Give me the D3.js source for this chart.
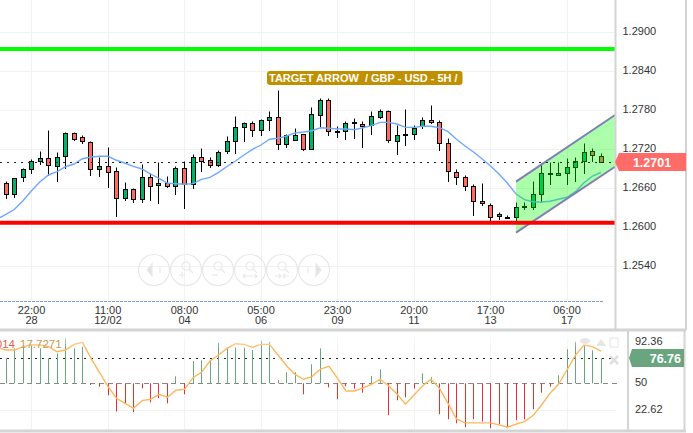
<!DOCTYPE html>
<meta charset="utf-8">
<style>
  body { margin: 0; background: #fff; }
  text { font-family: "Liberation Sans", Arial, sans-serif; }
</style>

<!-- Load d3.js -->
<script src="https://d3js.org/d3.v7.min.js"></script>

<svg width="693" height="433"></svg>

<script>
// candles, oldest first
var opens = [1.26677,1.26502,1.26769,1.26892,1.27015,1.27062,1.26938,1.27092,1.27446,1.27385,1.27308,1.26892,1.26938,1.26862,1.26446,1.26585,1.26431,1.26769,1.26646,1.26677,1.26631,1.26908,1.26662,1.27077,1.27031,1.26954,1.27169,1.27323,1.27538,1.27600,1.27492,1.27646,1.27692,1.27277,1.27338,1.27431,1.27200,1.27723,1.27954,1.27462,1.27477,1.27600,1.27585,1.27569,1.27692,1.27785,1.27323,1.27415,1.27431,1.27554,1.27646,1.27615,1.27292,1.26846,1.26769,1.26631,1.26400,1.26338,1.26169,1.26158,1.26154,1.26308,1.26308,1.26508,1.26815,1.26800,1.26831,1.26923,1.27015,1.27169,1.27092];
var closes = [1.26502,1.26754,1.26892,1.27015,1.27062,1.26954,1.27077,1.27446,1.27354,1.27323,1.26892,1.26938,1.26846,1.26446,1.26585,1.26431,1.26769,1.26631,1.26677,1.26631,1.26908,1.26662,1.27077,1.27015,1.26954,1.27154,1.27323,1.27538,1.27600,1.27492,1.27646,1.27692,1.27277,1.27415,1.27415,1.27200,1.27739,1.27954,1.27477,1.27477,1.27600,1.27615,1.27554,1.27708,1.27785,1.27338,1.27415,1.27431,1.27523,1.27646,1.27615,1.27292,1.26862,1.26769,1.26631,1.26400,1.26369,1.26154,1.26200,1.26138,1.26308,1.26323,1.26508,1.26831,1.26831,1.26831,1.26923,1.27015,1.27154,1.27108,1.27000];
var highs = [1.26697,1.26754,1.26908,1.27046,1.27169,1.27492,1.27154,1.27462,1.27454,1.27415,1.27323,1.27077,1.27231,1.26923,1.26692,1.26600,1.26969,1.26831,1.27000,1.26785,1.26938,1.27015,1.27123,1.27215,1.27077,1.27185,1.27400,1.27708,1.27615,1.27631,1.27662,1.27785,1.28108,1.27431,1.27523,1.27431,1.27846,1.27985,1.27985,1.27554,1.27631,1.27677,1.27631,1.27785,1.27815,1.27800,1.27569,1.27815,1.27569,1.27692,1.27877,1.27640,1.27363,1.26892,1.26800,1.26662,1.26677,1.26369,1.26231,1.26185,1.26385,1.26385,1.26708,1.26985,1.27000,1.27000,1.27062,1.27077,1.27292,1.27215,1.27138];
var lows = [1.26440,1.26455,1.26702,1.26825,1.26963,1.26800,1.26702,1.26902,1.27332,1.27292,1.26794,1.26778,1.26609,1.26163,1.26409,1.26378,1.26378,1.26409,1.26369,1.26609,1.26502,1.26292,1.26594,1.26855,1.26923,1.26938,1.27138,1.27138,1.27323,1.27400,1.27415,1.27492,1.27200,1.27231,1.27338,1.27185,1.27200,1.27554,1.27415,1.27385,1.27354,1.27369,1.27231,1.27431,1.27677,1.27308,1.27123,1.27262,1.27354,1.27523,1.27600,1.27178,1.26702,1.26662,1.26563,1.26185,1.26338,1.26102,1.26123,1.26132,1.26102,1.26277,1.26277,1.26385,1.26662,1.26800,1.26662,1.26708,1.26831,1.27015,1.27000];

// blue moving average, avgStart is where it enters at the left edge
var avgStart = 1.2615;
var avgLine = [1.2620,1.26277,1.26409,1.26563,1.26702,1.26805,1.26855,1.26932,1.26974,1.27055,1.27082,1.27092,1.27092,1.27031,1.26985,1.26938,1.26897,1.26820,1.26754,1.26677,1.26671,1.26662,1.26671,1.26738,1.26769,1.26846,1.26935,1.27020,1.27112,1.27200,1.27266,1.27354,1.27369,1.27405,1.27451,1.27466,1.27486,1.27532,1.27523,1.27512,1.27512,1.27502,1.27532,1.27563,1.27615,1.27615,1.27589,1.27538,1.27538,1.27554,1.27554,1.27532,1.27471,1.27354,1.27251,1.27158,1.27055,1.26943,1.26820,1.26677,1.26512,1.26425,1.26394,1.26389,1.26400,1.26431,1.26462,1.26548,1.26686,1.26789,1.26846];

// lower panel, bars and orange signal line
var oscBars = [75.4,85.5,88.9,89.5,85.5,75.4,80.4,96.3,85.5,87.2,48.3,46.6,37.8,21.3,29.7,20.6,44.9,30.7,34.8,29.7,57.1,38.8,72.6,73.3,73.7,91.2,86.2,86.2,86.2,83.8,93.3,92.3,53.4,61.2,61.2,38.8,69.3,85.5,45.9,33.8,47,44.6,40.5,57.4,64.2,17.6,32.8,35.8,44.6,60.1,56.4,18.6,13.5,9.4,5.4,13.5,11.1,4.4,8.4,4.4,12.5,13.5,23.6,40.5,46.6,58.1,84.5,92.3,88.9,83.5,75.4];
var oscStart = 85.5;
var oscSignal = [83.8,83.8,87.2,88.9,88.9,87.2,82.1,83.8,89.5,91.6,75.4,61.2,46.6,34.8,29.7,24.6,32.4,33.8,38.8,35.8,42.9,43.9,55.7,61.2,72.6,78.7,85.5,90.2,89.5,86.5,89.5,89.5,78.7,67.9,59.1,54.1,56.8,64.5,67.2,55.1,42.2,42.2,45.3,49,54.1,47.6,39.2,28.7,38.2,47.3,54.1,44.9,29.7,13.8,9.8,9.8,9.8,9.8,7.7,5.4,8.4,11.1,17.2,28,39.9,49,63.5,78.7,88.9,87.2,82.8];

var priceTicks = [1.2900,1.2840,1.2780,1.2720,1.2660,1.2600,1.2540];
var oscTicks = [92.36,50,22.62];
var timeTicks = [
  { i: 3, top: "22:00", bottom: "28" },
  { i: 12, top: "11:00", bottom: "12/02" },
  { i: 21, top: "08:00", bottom: "04" },
  { i: 30, top: "05:00", bottom: "06" },
  { i: 39, top: "23:00", bottom: "09" },
  { i: 48, top: "20:00", bottom: "11" },
  { i: 57, top: "17:00", bottom: "13" },
  { i: 66, top: "06:00", bottom: "17" }
];

// drawn levels and the channel
var resistance = 1.28743, support = 1.2607, lastLevel = 1.2699, oscLevel = 75.4;
var channelTop = [{ i: 60, p: 1.26702 }, { i: 71.65, p: 1.27728 }];
var channelBottom = [{ i: 60, p: 1.25917 }, { i: 71.65, p: 1.26932 }];

var svg = d3.select("svg");
var plotRight = 615;

var x = d3.scaleLinear().domain([0, 70]).range([6, 601]);
var y = d3.scaleLinear().domain([1.25, 1.29]).range([292.3, 32.3]);
var yOsc = d3.scaleLinear().domain([50, 92.36]).range([383.3, 341.6]);

function px(v) { return Math.floor(v) + 0.5; }

function hline(parent, yy, x2, color, dash, w) {
  return parent.append("line")
    .attr("x1", 0).attr("x2", x2)
    .attr("y1", yy).attr("y2", yy)
    .attr("stroke", color)
    .attr("stroke-width", w || 1)
    .attr("stroke-dasharray", dash || null);
}

// series with an extra point that reaches the left edge
function fromEdge(first, values) {
  var pts = values.map(function (v, i) { return { i: i, v: v }; });
  pts.unshift({ i: -0.7, v: first });
  return pts;
}

// grid
var grid = svg.append("g");
grid.selectAll("line.v").data(timeTicks).enter().append("line")
  .attr("x1", function (d) { return px(x(d.i)); })
  .attr("x2", function (d) { return px(x(d.i)); })
  .attr("y1", 0).attr("y2", 300)
  .attr("stroke", "#f2f2f2");
grid.selectAll("line.o").data(timeTicks).enter().append("line")
  .attr("x1", function (d) { return px(x(d.i)); })
  .attr("x2", function (d) { return px(x(d.i)); })
  .attr("y1", 332).attr("y2", 429)
  .attr("stroke", "#f2f2f2");
priceTicks.forEach(function (t) { hline(grid, px(y(t)), plotRight, "#f2f2f2"); });
hline(grid, px(yOsc(22.62)), plotRight, "#f2f2f2");

// zoom buttons under the candles
var buttons = svg.append("g").attr("fill", "none").attr("stroke", "#e9e9e9").attr("stroke-width", 1.2);
[154, 186, 218, 250, 282, 314].forEach(function (cx, n) {
  var b = buttons.append("g").attr("transform", "translate(" + cx + ",270)");
  b.append("circle").attr("r", 15.5);
  if (n == 0) {
    b.append("path").attr("d", "M-5,-6V6L-10,0Z M3,-3V3").attr("fill", "#e2e2e2").attr("transform", "translate(3,0)");
  } else if (n == 5) {
    b.append("path").attr("d", "M5,-6V6L10,0Z M-3,-3V3").attr("fill", "#e2e2e2").attr("transform", "translate(-3,0)");
  } else {
    b.append("circle").attr("cx", 0).attr("cy", -4).attr("r", 4);
    b.append("path").attr("d", "M3,-1L7,3");
    var marks = ["M-7,5H-1M-4,2V8", "M-6,5H0", "M-7,6H7M-7,6l2,-2M-7,6l2,2M7,6l-2,-2M7,6l-2,2", "M-7,6H-1M7,6H1M-1,6l-2,-2M-1,6l-2,2M1,6l2,-2M1,6l2,2"];
    b.append("path").attr("d", marks[n - 1]);
  }
});

// candles
var candles = svg.append("g").selectAll("g").data(d3.range(opens.length)).enter().append("g");
candles.append("line")
  .attr("x1", function (i) { return px(x(i)); })
  .attr("x2", function (i) { return px(x(i)); })
  .attr("y1", function (i) { return px(y(highs[i])); })
  .attr("y2", function (i) { return px(y(lows[i])) + 0.5; })
  .attr("stroke", "#000");
candles.append("rect")
  .attr("x", function (i) { return px(x(i)) - 2; })
  .attr("width", 4)
  .attr("y", function (i) { return px(y(Math.max(opens[i], closes[i]))); })
  .attr("height", function (i) { return px(y(Math.min(opens[i], closes[i]))) - px(y(Math.max(opens[i], closes[i]))); })
  .attr("fill", function (i) { return closes[i] >= opens[i] ? "#00b36b" : "#ff6b60"; })
  .attr("stroke", "#000");

svg.append("path")
  .attr("d", d3.line().x(function (d) { return x(d.i); }).y(function (d) { return y(d.v); })(fromEdge(avgStart, avgLine)))
  .attr("fill", "none")
  .attr("stroke", "#70a8ff")
  .attr("stroke-width", 1.4);

// channel, see-through so the candles go olive under it
svg.append("path")
  .attr("d", d3.line().x(function (d) { return x(d.i); }).y(function (d) { return y(d.p); })(channelTop.concat(channelBottom.slice().reverse())) + "Z")
  .attr("fill", "rgba(0,255,0,0.33)");
[channelTop, channelBottom].forEach(function (c) {
  svg.append("path")
    .attr("d", d3.line().x(function (d) { return x(d.i); }).y(function (d) { return y(d.p); })(c))
    .attr("fill", "none")
    .attr("stroke", "#7f7fb5")
    .attr("stroke-width", 2);
});

hline(svg, y(resistance), plotRight, "#00ff00", null, 4);
hline(svg, y(support), plotRight, "#ff0000", null, 4);
hline(svg, px(y(lastLevel)), plotRight, "#222", "2,5");

// title label
svg.append("rect")
  .attr("x", 267).attr("y", 71).attr("width", 195.5).attr("height", 14).attr("rx", 3)
  .attr("fill", "#c09000");
svg.append("text")
  .attr("x", 269).attr("y", 82)
  .attr("font-size", 11).attr("font-weight", "bold").attr("fill", "#fff")
  .style("white-space", "pre")
  .text("TARGET ARROW  / GBP - USD - 5H /");

// lower panel
hline(svg, px(yOsc(50)), 617, "#888", "5,4");
hline(svg, px(yOsc(oscLevel)), plotRight, "#222", "2,5");
svg.append("g").selectAll("line").data(oscBars).enter().append("line")
  .attr("x1", function (d, i) { return px(x(i)); })
  .attr("x2", function (d, i) { return px(x(i)); })
  .attr("y1", yOsc(50))
  .attr("y2", function (d) { return yOsc(d); })
  .attr("stroke", function (d) { return d >= 50 ? "#6aa57f" : "#e83030"; });
svg.append("path")
  .attr("d", d3.line().x(function (d) { return x(d.i); }).y(function (d) { return yOsc(d.v); })(fromEdge(oscStart, oscSignal)))
  .attr("fill", "none")
  .attr("stroke", "#ffb75e")
  .attr("stroke-width", 1.4);

// top of the lower panel fades out
var grad = svg.append("defs").append("linearGradient")
  .attr("id", "fade").attr("x1", 0).attr("x2", 0).attr("y1", 0).attr("y2", 1);
grad.append("stop").attr("offset", "0%").attr("stop-color", "#fff").attr("stop-opacity", 0.9);
grad.append("stop").attr("offset", "100%").attr("stop-color", "#fff").attr("stop-opacity", 0);
svg.append("rect").attr("x", 0).attr("y", 332).attr("width", 617).attr("height", 16).attr("fill", "url(#fade)");

svg.append("text").attr("x", 15).attr("y", 348).attr("text-anchor", "end")
  .attr("font-size", 11.5).attr("fill", "#e25c5c").text("014");
svg.append("text").attr("x", 20).attr("y", 348)
  .attr("font-size", 11.5).attr("fill", "#c99a55").text("17.7271");

// panel tools, top right of the lower panel
var tools = svg.append("g").attr("fill", "#e6e6e6");
tools.append("ellipse").attr("cx", 585).attr("cy", 341).attr("rx", 5).attr("ry", 3);
tools.append("path").attr("d", "M596,346L601,339L606,346Z");
tools.append("rect").attr("x", 610).attr("y", 338).attr("width", 8).attr("height", 9).attr("fill", "none").attr("stroke", "#e6e6e6");
tools.append("path").attr("d", "M610,356L618,364M618,356L610,364").attr("stroke", "#e0e0e0").attr("stroke-width", 2.5);

// frame
var frame = svg.append("g").attr("stroke", "#d4d4d4").attr("fill", "none");
frame.append("path").attr("d", "M615.5,0V330M686,0V330").attr("stroke-width", 2);
frame.append("path").attr("d", "M628,330V431M684.5,330V431").attr("stroke-width", 2);
frame.append("path").attr("d", "M0,330H686M0,431H686").attr("stroke-width", 3);
svg.append("line").attr("x1", 0).attr("x2", 604).attr("y1", 301.5).attr("y2", 301.5)
  .attr("stroke", "#7f9fe0").attr("stroke-dasharray", "3,1");

// axes
var priceAxis = svg.append("g")
  .attr("transform", "translate(622.5,0)")
  .call(d3.axisRight(y).tickValues(priceTicks).tickFormat(d3.format(".4f")).tickSize(0).tickPadding(0));
var oscAxis = svg.append("g")
  .attr("transform", "translate(635,0)")
  .call(d3.axisRight(yOsc).tickValues(oscTicks).tickFormat(function (d) { return d; }).tickSize(0).tickPadding(0));
[priceAxis, oscAxis].forEach(function (a) {
  a.select(".domain").remove();
  a.selectAll("text")
    .attr("font-size", 11)
    .attr("fill", "#333")
    .attr("y", -1);
  a.attr("font-family", null);
});

// time labels, two lines in one text
var timeLabels = svg.append("g").selectAll("text").data(timeTicks).enter().append("text")
  .attr("text-anchor", "middle").attr("font-size", 11).attr("fill", "#333")
  .attr("y", 314);
timeLabels.append("tspan").attr("x", function (d) { return x(d.i); }).text(function (d) { return d.top; });
timeLabels.append("tspan").attr("x", function (d) { return x(d.i); }).attr("dy", 10).text(function (d) { return d.bottom; });

// last value tags
svg.append("path").attr("d", "M615,162L619,153H686V171H619Z").attr("fill", "#ff6b66");
svg.append("text").attr("x", 652).attr("y", 166.5).attr("text-anchor", "middle")
  .attr("font-size", 12.5).attr("font-weight", "bold").attr("fill", "#fff").text("1.2701");
svg.append("path").attr("d", "M629,358L632,349H684V367H632Z").attr("fill", "#6aa580");
svg.append("text").attr("x", 681).attr("y", 362.5).attr("text-anchor", "end")
  .attr("font-size", 12.5).attr("font-weight", "bold").attr("fill", "#fff").text("76.76");
</script>
